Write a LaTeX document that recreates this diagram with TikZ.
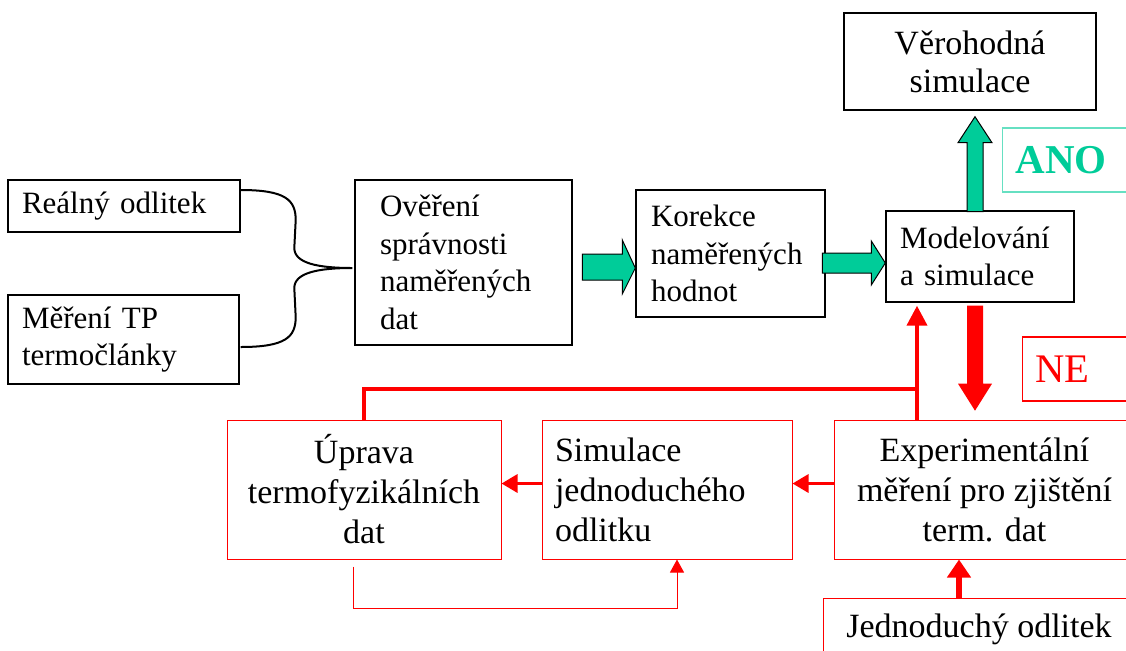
\documentclass[tikz,border=0pt]{standalone}
\usepackage{fontspec}
\setmainfont{Liberation Serif}
\usetikzlibrary{calc,positioning,arrows.meta}
\definecolor{anogreen}{RGB}{0,204,153}
\definecolor{nered}{RGB}{255,0,0}
\tikzset{
  box/.style={draw, line width=0.7pt, inner ysep=0pt, font=\fontsize{15.5}{18.8}\selectfont},
  lbox/.style={box, align=left},
  redbox/.style={draw=nered, line width=0.5pt, inner ysep=0pt, align=center, font=\fontsize{17}{20}\selectfont},
  redline/.style={draw=nered, line width=2pt},
  redtip/.style={-{Triangle[width=10pt,length=10pt]}},
  blockarrow/.style={fill=anogreen, draw=black, line width=0.5pt, line join=miter},
  brace/.style={line width=1pt},
}

\begin{document}
\begin{tikzpicture}[x=0.5pt, y=-0.5pt]
  \clip (0,0) rectangle (1126,650);
  % vstupni data
  \node[lbox, minimum width=116pt, minimum height=26pt, text width=102pt, inner xsep=7pt] (real) at (124,206) {Reálný odlitek};
  \node[lbox, minimum width=115.5pt, minimum height=44.5pt, text width=101.5pt, inner xsep=7pt] (mereni) at (123.5,339.5) {Měření TP\\termočlánky};
  \node[lbox, minimum width=108.5pt, minimum height=82.5pt, text width=83.5pt, inner xsep=12.5pt] (over) at (463.5,262.5) {Ověření\\správnosti\\naměřených\\dat};
  \node[lbox, minimum width=94.5pt, minimum height=63.5pt, text width=79.5pt, inner xsep=7.5pt] (korekce) at (730.5,253.5) {Korekce\\naměřených\\hodnot};
  \node[lbox, minimum width=94pt, minimum height=45.5pt, text width=80pt, inner xsep=7pt] (model) at (980,256.5) {Modelování\\a simulace};
  \node[box, align=center, minimum width=126pt, minimum height=48.5pt, font=\fontsize{17}{19}\selectfont] (vero) at (970,61.5) {Věrohodná\\simulace};
  % ANO / NE
  \node[draw=anogreen!60, line width=0.6pt, anchor=west, minimum width=70pt, minimum height=32pt, inner xsep=6.5pt, text width=57pt, align=left, text=anogreen, font=\bfseries\fontsize{20.5}{22}\selectfont] (ano) at (1002,160) {ANO};
  \node[draw=nered, line width=0.6pt, anchor=west, minimum width=70pt, minimum height=32pt, inner xsep=6.5pt, text width=57pt, align=left, text=nered, font=\fontsize{20.3}{22}\selectfont] (ne) at (1022,369) {NE};
  % smycka experimentu
  \node[redbox, minimum width=150.5pt, minimum height=69.5pt] (exper) at (984.5,489.5) {Experimentální\\měření pro zjištění\\term. dat};
  \node[redbox, minimum width=137pt, minimum height=69.5pt] (uprava) at (364,489.5) {Úprava\\termofyzikálních\\dat};
  \node[redbox, align=left, minimum width=125pt, minimum height=69.5pt, text width=112pt, inner xsep=6.5pt] (simul) at (667,489.5) {Simulace\\jednoduchého\\odlitku};
  \node[redbox, minimum width=156pt, minimum height=31pt] (jedn) at (979,629) {Jednoduchý odlitek};

  % slozena zavorka
  \coordinate (btop) at ($(real.east)+(0,-16)$);
  \coordinate (bbot) at ($(mereni.east)+(1,7.5)$);
  \coordinate (btip) at ($(over.west)+(-2,5.5)$);
  \draw[brace] (btop) .. controls +(45,0) and +(0,-20) .. ($(btop)+(55,30)$)
    -- ($(btip)+(-58,-20)$) .. controls +(0,15) and +(-35,0) .. (btip)
    .. controls +(-35,0) and +(0,-15) .. ($(btip)+(-58,20)$)
    -- ($(bbot)+(55,-30)$) .. controls +(0,20) and +(45,0) .. (bbot);

  % zelene sipky
  \draw[blockarrow] ($(korekce.west)+(0,14.5)$) -- ++(-13,-28) -- ++(0,14) -- ++(-40,0) -- ++(0,26) -- ++(40,0) -- ++(0,14) -- cycle;
  \draw[blockarrow] ($(model.west)+(0,6.5)$) -- ++(-14,-22) -- ++(0,12) -- ++(-49,0) -- ++(0,20) -- ++(49,0) -- ++(0,12) -- cycle;
  \draw[blockarrow] ($(vero.south)+(5,6)$) -- ++(-17,26) -- ++(9,0) -- ++(0,69) -- ++(16,0) -- ++(0,-69) -- ++(9,0) -- cycle;

  % cervene sipky
  \fill[nered] ($(model.south)+(-13,3)$) -- ++(16,0) -- ++(0,78) -- ++(9,0) -- ++(-17,27) -- ++(-17,-27) -- ++(9,0) -- cycle;
  \coordinate (fb) at ($(model.south)+(-63,3)$);
  \draw[redline, redtip] (fb |- exper.north) -- (fb);
  \draw[redline] ($(fb)+(0,83)$) -| (uprava.north);
  \draw[redline, line width=1.6pt, -{Triangle[width=9pt,length=8pt]}] ($(exper.west)+(0,-6)$) -- ($(simul.east)+(0,-6)$);
  \draw[redline, line width=1.6pt, -{Triangle[width=9pt,length=8pt]}] ($(simul.west)+(0,-6)$) -- ($(uprava.east)+(0,-6)$);
  \coordinate (jin) at ($(jedn.north)+(-20,0)$);
  \draw[redline, line width=3pt, -{Triangle[width=11.5pt,length=9pt]}] (jin) -- (jin |- exper.south);
  \draw[draw=nered, line width=0.5pt, -{Triangle[width=7pt,length=6.5pt]}] ($(uprava.south)+(-11,7)$) |- ($(simul.south)+(10,49)$) -- ($(simul.south)+(10,0)$);
\end{tikzpicture}
\end{document}
